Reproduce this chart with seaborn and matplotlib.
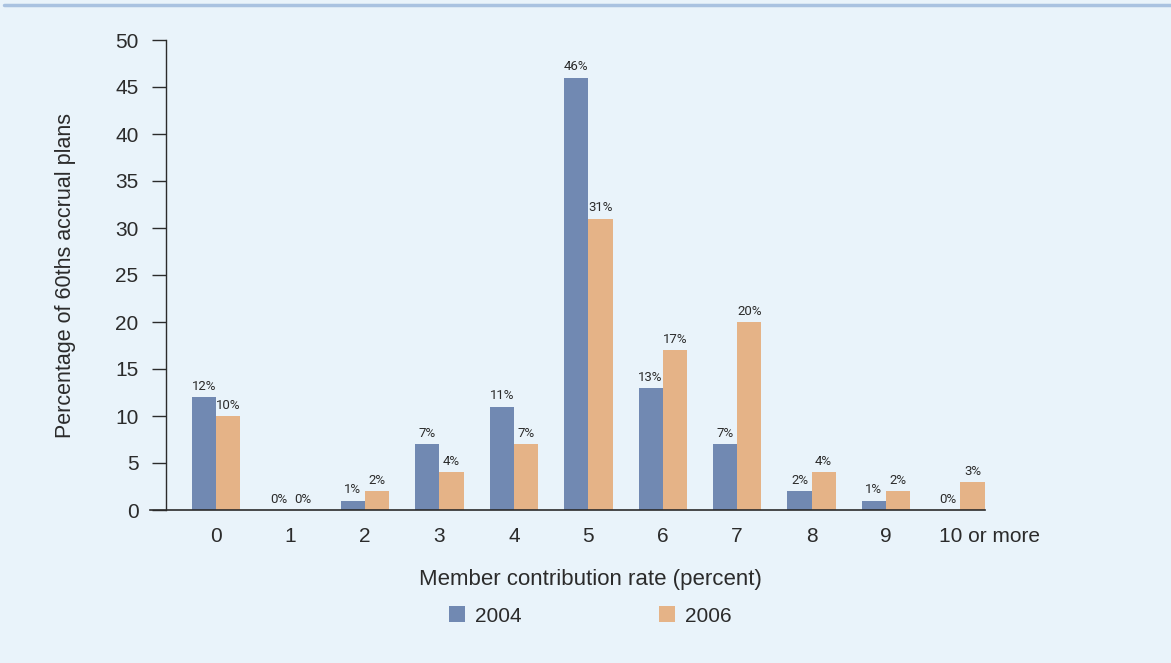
import pandas as pd
import numpy as np
import matplotlib.pyplot as plt
import matplotlib.transforms as mtransforms
from matplotlib.lines import Line2D
from matplotlib.patches import Patch
import seaborn as sns

categories = ['0', '1', '2', '3', '4', '5', '6', '7', '8', '9', '10 or more']
years = ['2004', '2006']
values_2004 = [12, 0, 1, 7, 11, 46, 13, 7, 2, 1, 0]
values_2006 = [10, 0, 2, 4, 7, 31, 17, 20, 4, 2, 3]

bg = '#e9f3fa'
colors = {'2004': '#7189b2', '2006': '#e5b387'}
text_col = '#2b2b2b'

df = pd.DataFrame({
    'rate': categories * 2,
    'year': ['2004'] * len(categories) + ['2006'] * len(categories),
    'pct': values_2004 + values_2006,
})

sns.set_style('white')
plt.rcParams['font.family'] = ['Liberation Sans', 'DejaVu Sans']

fig = plt.figure(figsize=(11.71, 6.63), dpi=100, facecolor=bg)
ax = fig.add_axes([150 / 1171, 1 - 510 / 663, (985 - 150) / 1171, (510 - 40) / 663])
ax.set_facecolor(bg)

sns.barplot(data=df, x='rate', y='pct', hue='year', order=categories,
            hue_order=years, palette=colors, width=0.65, gap=0,
            saturation=1, linewidth=0, ax=ax, legend=False)

for cont in ax.containers:
    ax.bar_label(cont, fmt='{:.0f}%', padding=3, fontsize=9.5,
                 color=text_col, family='Roboto')

ax.set_xlim(-0.89, 10.33)
ax.set_ylim(0, 50)
ax.set_yticks(range(0, 51, 5))

for s in ['top', 'right']:
    ax.spines[s].set_visible(False)
ax.spines['left'].set_position(('data', -0.67))
ax.spines['left'].set_color(text_col)
ax.spines['bottom'].set_color(text_col)
ax.spines['left'].set_linewidth(1.0)
ax.spines['bottom'].set_linewidth(1.2)

ax.tick_params(axis='y', direction='out', length=10, width=1.0,
               color=text_col, pad=10, labelsize=15, labelcolor=text_col, left=True)
ax.tick_params(axis='x', length=0, pad=12, labelsize=15, labelcolor=text_col)

# shift the long last label to the right like the original
lbl = ax.get_xticklabels()[-1]
lbl.set_transform(lbl.get_transform() + mtransforms.ScaledTranslation(0.29, 0, fig.dpi_scale_trans))

ax.set_xlabel('Member contribution rate (percent)', fontsize=16, color=text_col, labelpad=17)
ax.xaxis.label.set_x((590 - 150) / 835)
ax.set_ylabel('Percentage of 60ths accrual plans', fontsize=15.5, color=text_col, labelpad=28)

handles = [Patch(facecolor=colors[y], edgecolor='none') for y in years]
fig.legend(handles, years, loc='center', bbox_to_anchor=(590 / 1171, 1 - 616 / 663),
           ncol=2, frameon=False, fontsize=15, handlelength=0.8, handleheight=0.8,
           handletextpad=0.45, columnspacing=6.6, labelcolor=text_col)

fig.add_artist(Line2D([4 / 1171, 1], [1 - 5 / 663] * 2, color='#a9c2e0', linewidth=2.5,
                      transform=fig.transFigure))

fig.savefig('out.png', dpi=100, facecolor=bg)
